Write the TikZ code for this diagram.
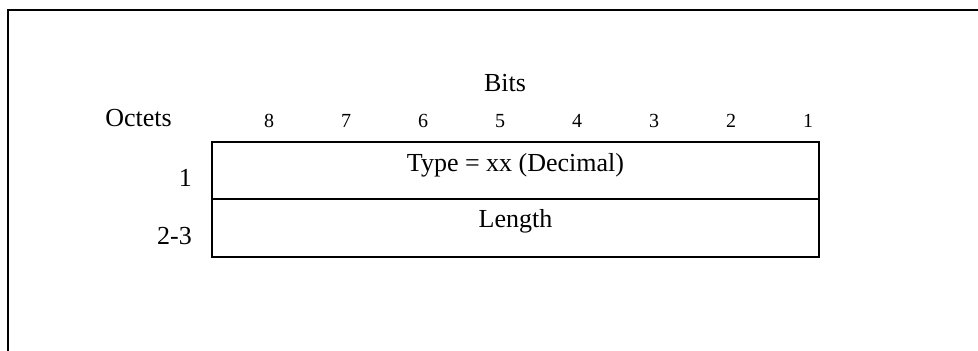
\documentclass[tikz,border=0pt]{standalone}
\usepackage{fontspec}
\setmainfont{Liberation Serif}
\tikzset{
  lbl/.style={inner sep=0pt, font=\fontsize{26}{30}\selectfont},
  bitnum/.style={inner sep=0pt, anchor=base, font=\fontsize{20}{24}\selectfont}
}
\begin{document}
\begin{tikzpicture}[x=1pt,y=1pt]
    \useasboundingbox (0,0) rectangle (978,351);
    \draw[line width=2pt] (8,0) |- (978,341);
    \node[lbl, anchor=base] (bits) at (505,259) {Bits};
    \node[lbl, anchor=base east] (octets) at (172,224) {Octets};
    \foreach \b in {1,...,8}
      \node[bitnum] (bit\b) at ({269+77*(8-\b)},223) {\b};
    \draw[line width=2pt] (212,152) rectangle (819,209);
    \draw[line width=2pt] (212,94) rectangle (819,152);
    \node[lbl, anchor=base] (type) at (515.5,179) {Type = xx (Decimal)};
    \node[lbl, anchor=base] (length) at (515.5,123) {Length};
    \node[lbl, anchor=base east] (oct1) at (192,164) {1};
    \node[lbl, anchor=base east] (oct23) at (192,106) {2-3};
  \end{tikzpicture}
\end{document}
